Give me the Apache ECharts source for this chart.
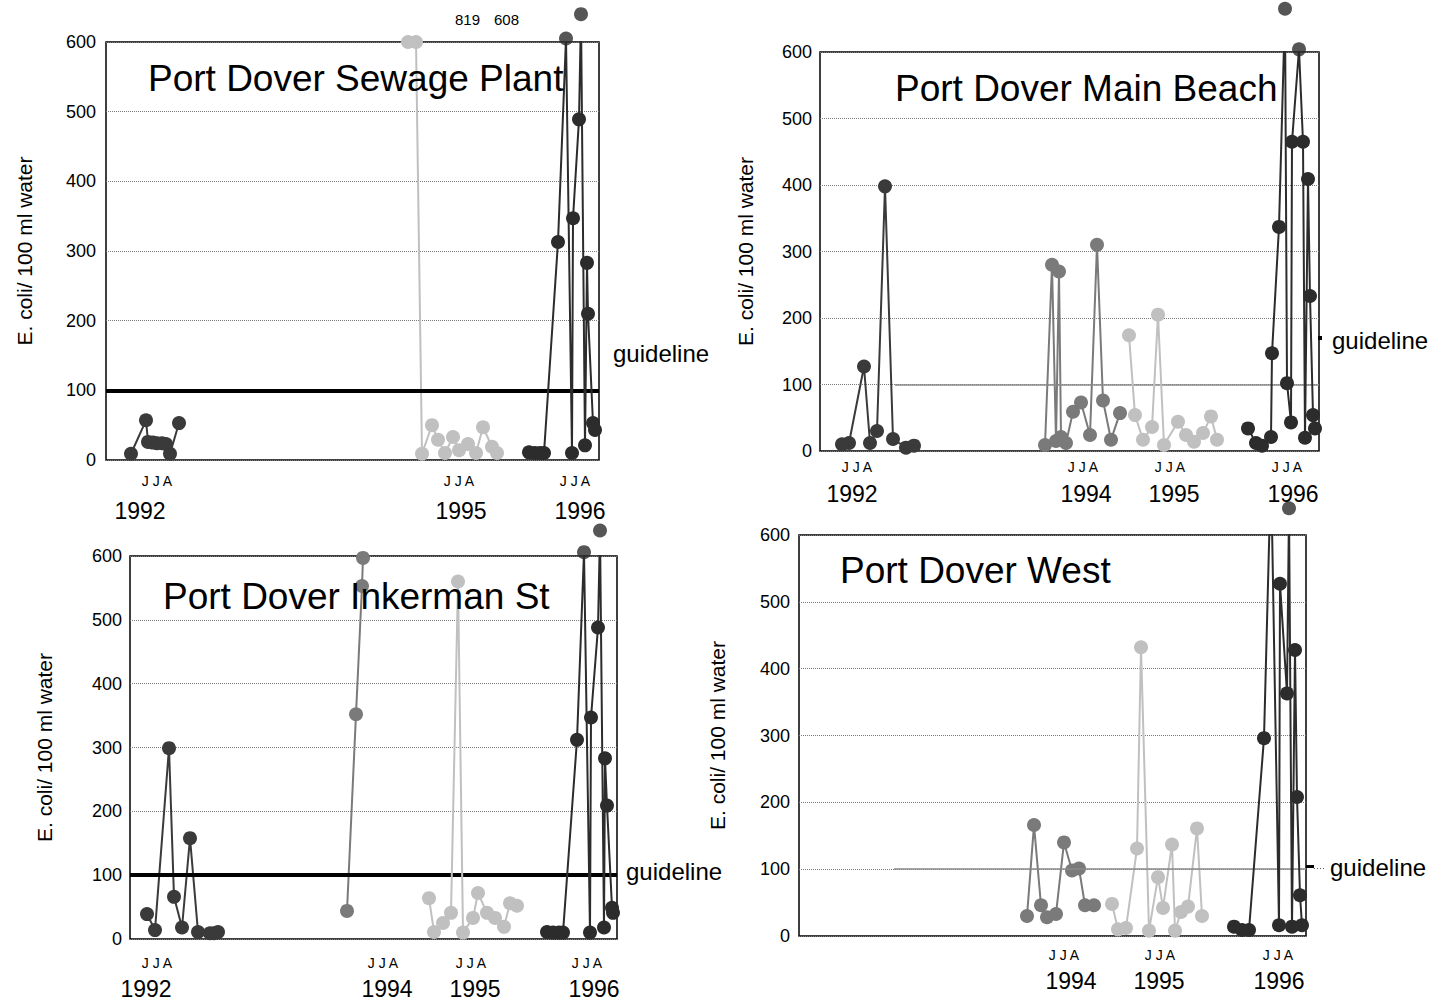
<!DOCTYPE html>
<html><head><meta charset="utf-8">
<style>html,body{margin:0;padding:0;background:#fff}#c{width:1440px;height:1006px}</style>
<script src="https://cdn.jsdelivr.net/npm/echarts@6/dist/echarts.min.js"></script>
</head><body><div id="c"></div>
<script>
// ---------- DATA (x = position along sampling timeline, y = E. coli / 100 ml) ----------
const yTicks = [0, 100, 200, 300, 400, 500, 600];
const guidelineValue = 100;
const jjaLabel = 'J J A';

// Panel 1: Port Dover Sewage Plant
const p1Range = [106, 599];
const p1x1992 = [131, 146, 148, 153, 157, 162, 166, 170, 179];
const p1y1992 = [9, 57, 26, 25, 24, 24, 23, 9, 53];
const p1x1995 = [408, 416, 422, 432, 438, 445, 453, 459, 468, 476, 483, 492, 497];
const p1y1995 = [600, 600, 9, 50, 29, 10, 33, 14, 23, 10, 47, 19, 10];
const p1x1996 = [529, 535, 540, 544, 558, 566, 572, 573, 579, 581, 585, 587, 588, 593, 595];
const p1y1996 = [11, 10, 10, 10, 313, 605, 10, 347, 489, 640, 21, 283, 210, 53, 43];
const p1OffX = [566, 581];
const p1OffY = [605, 640];
const p1Clipped = ['819', '608'];
const p1JJA = [157, 459, 575];
const p1YearPos = [140, 461, 580];
const p1Years = ['1992', '1995', '1996'];

// Panel 2: Port Dover Main Beach
const p2Range = [820, 1319];
const p2x1992 = [842, 849, 864, 870, 877, 885, 893, 906, 914];
const p2y1992 = [10, 12, 127, 12, 30, 398, 18, 5, 8];
const p2x1994 = [1045, 1052, 1056, 1059, 1061, 1066, 1073, 1081, 1090, 1097, 1103, 1111, 1120];
const p2y1994 = [9, 280, 15, 270, 21, 12, 59, 73, 24, 310, 76, 17, 57];
const p2x1995 = [1129, 1135, 1143, 1152, 1158, 1164, 1178, 1186, 1194, 1203, 1211, 1217];
const p2y1995 = [174, 54, 17, 36, 205, 9, 44, 24, 14, 27, 52, 17];
const p2x1996 = [1248, 1256, 1262, 1271, 1272, 1279, 1285, 1287, 1291, 1292, 1299, 1303, 1305, 1308, 1310, 1313, 1315];
const p2y1996 = [34, 12, 8, 21, 147, 337, 665, 102, 43, 465, 604, 465, 20, 409, 233, 54, 34];
const p2OffX = [1285, 1299];
const p2OffY = [665, 604];
const p2JJA = [857, 1083, 1170, 1287];
const p2YearPos = [852, 1086, 1174, 1293];
const p2Years = ['1992', '1994', '1995', '1996'];

// Panel 3: Port Dover Inkerman St
const p3Range = [130, 617];
const p3x1992 = [147, 155, 169, 174, 182, 190, 198, 210, 214, 218];
const p3y1992 = [39, 14, 299, 66, 18, 158, 11, 9, 9, 11];
const p3x1994 = [347, 356, 362, 363];
const p3y1994 = [44, 352, 553, 597];
const p3x1995 = [429, 434, 443, 451, 458, 463, 473, 478, 487, 495, 504, 510, 517];
const p3y1995 = [64, 11, 25, 41, 560, 10, 33, 72, 41, 33, 19, 56, 52];
const p3x1996 = [547, 553, 559, 563, 577, 584, 590, 591, 598, 600, 604, 605, 607, 612, 613];
const p3y1996 = [11, 10, 10, 10, 312, 606, 10, 347, 488, 640, 18, 283, 209, 49, 41];
const p3OffX = [584, 600];
const p3OffY = [606, 640];
const p3JJA = [157, 383, 471, 587];
const p3YearPos = [146, 387, 475, 594];
const p3Years = ['1992', '1994', '1995', '1996'];

// Panel 4: Port Dover West
const p4Range = [799, 1306];
const p4x1994 = [1027, 1034, 1041, 1047, 1056, 1064, 1072, 1079, 1085, 1094];
const p4y1994 = [30, 166, 46, 28, 33, 140, 98, 101, 46, 46];
const p4x1995 = [1112, 1118, 1126, 1137, 1141, 1149, 1158, 1163, 1172, 1175, 1181, 1188, 1197, 1202];
const p4y1995 = [48, 10, 12, 131, 432, 8, 88, 42, 137, 8, 36, 44, 161, 30];
const p4x1996 = [1234, 1242, 1249, 1264, 1271, 1279, 1280, 1287, 1289, 1292, 1295, 1297, 1300, 1302];
const p4y1996 = [14, 9, 9, 296, 700, 16, 527, 363, 640, 14, 428, 208, 61, 16];
const p4OffX = [1289];
const p4OffY = [640];
const p4JJA = [1064, 1160, 1278];
const p4YearPos = [1071, 1159, 1279];
const p4Years = ['1994', '1995', '1996'];

// ---------- STYLE / LAYOUT ----------
const FONT = '"Liberation Sans", Arial, Helvetica, sans-serif';
const yearColor = {'1992': '#3a3a3a', '1994': '#7a7a7a', '1995': '#c0c0c0', '1996': '#2c2c2c'};
const yName = 'E. coli/ 100 ml water';

const panels = [
  {title: 'Port Dover Sewage Plant', titlePos: [148, 60],
   grid: {left: 106, top: 42, width: 493, height: 418}, range: p1Range,
   series: [['1992', p1x1992, p1y1992], ['1995', p1x1995, p1y1995], ['1996', p1x1996, p1y1996]],
   off: [p1OffX, p1OffY], jja: p1JJA, yearPos: p1YearPos, years: p1Years,
   guide: 'thick', jjaMargin: 14, yearMargin: 39, nameGap: 71, labelMargin: 10},
  {title: 'Port Dover Main Beach', titlePos: [895, 70],
   grid: {left: 820, top: 52, width: 499, height: 399}, range: p2Range,
   series: [['1992', p2x1992, p2y1992], ['1994', p2x1994, p2y1994], ['1995', p2x1995, p2y1995], ['1996', p2x1996, p2y1996]],
   off: [p2OffX, p2OffY], jja: p2JJA, yearPos: p2YearPos, years: p2Years,
   guide: 'thin', guideFrom: 895, jjaMargin: 9, yearMargin: 31, nameGap: 64, labelMargin: 8},
  {title: 'Port Dover Inkerman St', titlePos: [163, 578],
   grid: {left: 130, top: 556, width: 487, height: 383}, range: p3Range,
   series: [['1992', p3x1992, p3y1992], ['1994', p3x1994, p3y1994], ['1995', p3x1995, p3y1995], ['1996', p3x1996, p3y1996]],
   off: [p3OffX, p3OffY], jja: p3JJA, yearPos: p3YearPos, years: p3Years,
   guide: 'thick', jjaMargin: 17, yearMargin: 38, nameGap: 75, labelMargin: 8},
  {title: 'Port Dover West', titlePos: [840, 552],
   grid: {left: 799, top: 535, width: 507, height: 401}, range: p4Range,
   series: [['1994', p4x1994, p4y1994], ['1995', p4x1995, p4y1995], ['1996', p4x1996, p4y1996]],
   off: [p4OffX, p4OffY], jja: p4JJA, yearPos: p4YearPos, years: p4Years,
   guide: 'thin', guideFrom: 894, jjaMargin: 12, yearMargin: 33, nameGap: 71, labelMargin: 9}
];

const grid = [], xAxis = [], yAxis = [], series = [], title = [];
panels.forEach((p, i) => {
  const g = 2 * i;
  grid.push(Object.assign({show: true, borderColor: '#000', borderWidth: 1.5, backgroundColor: 'transparent'}, p.grid));
  grid.push(Object.assign({show: false}, p.grid));
  const baseX = {type: 'value', min: p.range[0], max: p.range[1],
    axisLine: {show: false}, axisTick: {show: false}, splitLine: {show: false}};
  xAxis.push(Object.assign({}, baseX, {gridIndex: g,
    axisLabel: {customValues: p.jja, formatter: () => jjaLabel, fontSize: 14, color: '#000', fontFamily: FONT, margin: p.jjaMargin}}));
  xAxis.push(Object.assign({}, baseX, {gridIndex: g + 1,
    axisLabel: {customValues: p.yearPos, formatter: v => p.years[p.yearPos.indexOf(v)], fontSize: 23, color: '#000', fontFamily: FONT, margin: p.yearMargin}}));
  yAxis.push({gridIndex: g, type: 'value', min: yTicks[0], max: yTicks[yTicks.length - 1], interval: yTicks[1] - yTicks[0],
    axisLine: {show: false}, axisTick: {show: false},
    axisLabel: {fontSize: 18, color: '#000', fontFamily: FONT, margin: p.labelMargin},
    splitLine: {show: true, lineStyle: {color: '#7a7a7a', type: 'dotted', width: 1}},
    name: yName, nameLocation: 'middle', nameGap: p.nameGap,
    nameTextStyle: {fontSize: 21, color: '#000', fontFamily: FONT}});
  yAxis.push({gridIndex: g + 1, type: 'value', min: 0, max: 600, show: false});
  title.push({text: p.title, left: p.titlePos[0], top: p.titlePos[1], padding: 0,
    textStyle: {fontSize: 37, fontWeight: 'normal', color: '#000', fontFamily: FONT}});

  p.series.forEach(([yr, xs, ys], k) => {
    const s = {type: 'line', name: p.title + ' ' + yr, xAxisIndex: g, yAxisIndex: g,
      data: xs.map((x, j) => [x, ys[j]]), symbol: 'circle', symbolSize: 14,
      itemStyle: {color: yearColor[yr]}, lineStyle: {color: yearColor[yr], width: 2},
      clip: true, silent: true, animation: false, z: 3 + k};
    if (k === 0) {
      const guideLine = p.guide === 'thick'
        ? {lineStyle: {color: '#000', width: 4, type: 'solid'}, data: [{yAxis: guidelineValue}]}
        : {lineStyle: {color: '#8a8a8a', width: 1.5, type: 'solid'},
           data: [[{coord: [p.guideFrom, guidelineValue]}, {coord: [p.range[1], guidelineValue]}]]};
      s.markLine = Object.assign({silent: true, symbol: ['none', 'none'], label: {show: false}, animation: false}, guideLine);
    }
    series.push(s);
  });
  // points beyond the 600 frame, drawn above the box
  series.push({type: 'scatter', xAxisIndex: g, yAxisIndex: g,
    data: p.off[0].map((x, j) => [x, p.off[1][j]]), symbol: 'circle', symbolSize: 14,
    itemStyle: {color: '#2c2c2c'}, clip: false, silent: true, animation: false, z: 10});
});

const txt = (text, x, y, size) => ({type: 'text', left: x, top: y, silent: true,
  style: {text, fontSize: size, fill: '#000', fontFamily: FONT}});

const graphic = [
  txt(p1Clipped[0], 455, 12, 15),
  txt(p1Clipped[1], 494, 12, 15),
  txt('guideline', 613, 341, 24),
  txt('guideline', 626, 859, 24),
  txt('guideline', 1332, 328, 24),
  txt('guideline', 1330, 855, 24),
  {type: 'rect', left: 1318, top: 336, silent: true, shape: {width: 4, height: 4}, style: {fill: '#000'}},
  {type: 'rect', left: 1306, top: 865, silent: true, shape: {width: 8, height: 3}, style: {fill: '#000'}},
  {type: 'line', silent: true, shape: {x1: 1314, y1: 868.5, x2: 1326, y2: 868.5},
   style: {stroke: '#555', lineWidth: 1, lineDash: [1, 2]}}
];

const chart = echarts.init(document.getElementById('c'), null, {renderer: 'svg'});
chart.setOption({animation: false, backgroundColor: '#fff', title, grid, xAxis, yAxis, series, graphic});
</script></body></html>
